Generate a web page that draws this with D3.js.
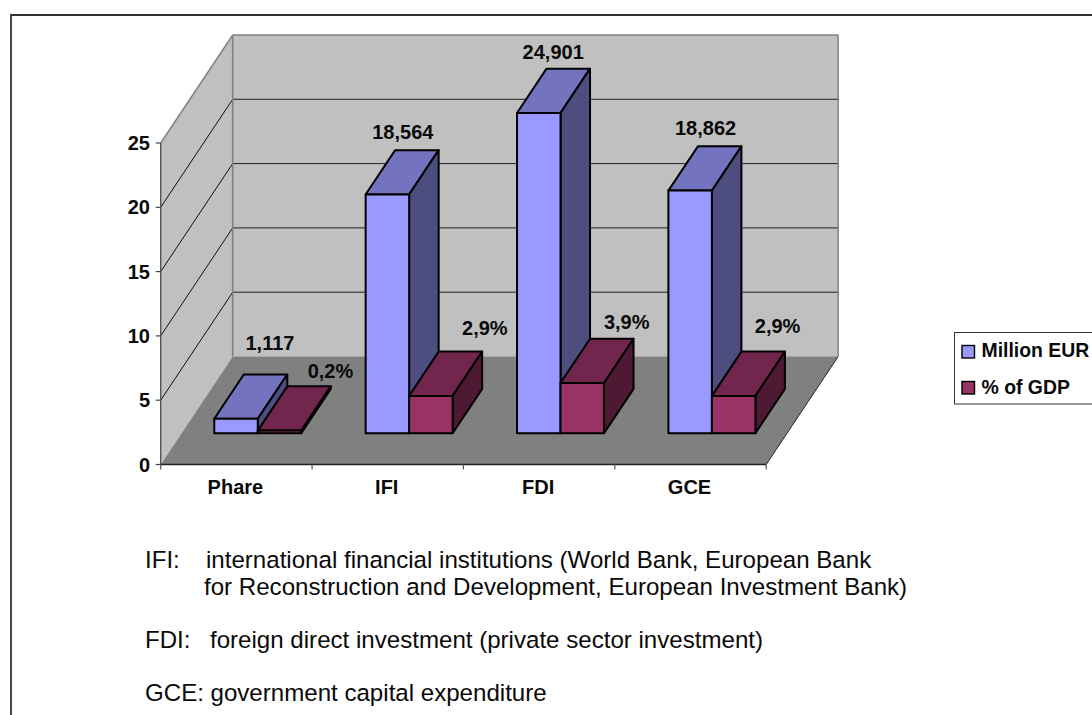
<!DOCTYPE html>
<html>
<head>
<meta charset="utf-8">
<script src="https://cdn.jsdelivr.net/npm/d3@7"></script>
<style>
html,body{margin:0;padding:0;background:#fff;overflow:hidden}
svg{display:block}
text{font-family:"Liberation Sans",Arial,sans-serif;fill:#0a0a0a}
.b{font-weight:bold;font-size:20px}
.l{font-weight:bold;font-size:19.4px}
.n{font-size:24.1px}
</style>
</head>
<body>
<svg id="c" width="1092" height="715"></svg>
<script>
// Chart values
const categories = ["Phare", "IFI", "FDI", "GCE"];
const millionEur = [1.117, 18.564, 24.901, 18.862];
const pctGdp = [0.2, 2.9, 3.9, 2.9];
const millionLabels = ["1,117", "18,564", "24,901", "18,862"];
const pctLabels = ["0,2%", "2,9%", "3,9%", "2,9%"];
const yTicks = [0, 5, 10, 15, 20, 25];
const seriesNames = ["Million EUR", "% of GDP"];
const notes = [
  ["IFI:", "international financial institutions (World Bank, European Bank"],
  ["", "for Reconstruction and Development, European Investment Bank)"],
  ["FDI:", "foreign direct investment (private sector investment)"],
  ["GCE:", "government capital expenditure"]
];

const svg = d3.select("#c");

// Oblique projection: x along the categories, z into the page, v up the value axis
const X0 = 160.7, Y0 = 464.5, W = 605.5, H = 321.5, DX = 72, DY = 108;
const xCat = d3.scaleBand().domain(categories).range([0, W]);
const yVal = d3.scaleLinear().domain([0, 25]).range([0, H]);
const P = (x, z, v) => [X0 + x + DX * z, Y0 - DY * z - v];
const poly = (pts, fill, stroke, sw) => svg.append("polygon")
  .attr("points", pts.map(p => p.join(",")).join(" "))
  .attr("fill", fill).attr("stroke", stroke || "none").attr("stroke-width", sw || 0)
  .attr("stroke-linejoin", "round");
const seg = (a, b, color, sw) => svg.append("line")
  .attr("x1", a[0]).attr("y1", a[1]).attr("x2", b[0]).attr("y2", b[1])
  .attr("stroke", color).attr("stroke-width", sw);

// Outer frame: left and top edges only
svg.append("path").attr("d", "M11,715V15H1092").attr("fill", "none").attr("stroke", "#333").attr("stroke-width", 1.8);

// Walls and floor
const wallH = yVal(25);
poly([P(0,0,0), P(0,1,0), P(0,1,wallH), P(0,0,wallH)], "#c0c0c0");
poly([P(0,1,0), P(W,1,0), P(W,1,wallH), P(0,1,wallH)], "#c0c0c0");
poly([P(0,0,0), P(W,0,0), P(W,1,0), P(0,1,0)], "#808080");

// Gridlines on both walls
yTicks.slice(1, -1).forEach(t => {
  seg(P(0,0,yVal(t)), P(0,1,yVal(t)), "#111", 1);
  seg(P(0,1,yVal(t)), P(W,1,yVal(t)), "#222", 1);
});

// Wall outlines
seg(P(0,0,wallH), P(0,1,wallH), "#808080", 1.4);
seg(P(0,1,wallH), P(W,1,wallH), "#808080", 1.6);
seg(P(W,1,wallH), P(W,1,0), "#808080", 1.4);
seg(P(0,1,0), P(0,1,wallH), "#808080", 1.6);
seg(P(0,1,0), P(W,1,0), "#a8a8a8", 1);
seg(P(W,0,0), P(W,1,0), "#222", 1);

// Value axis and category axis with ticks
seg(P(0,0,0), P(0,0,wallH), "#555", 1.4);
yTicks.forEach(t => {
  const p = P(0,0,yVal(t));
  seg([p[0]-5,p[1]], p, "#444", 1.2);
  svg.append("text").attr("class","b").attr("x",p[0]-10.7).attr("y",p[1]+7).attr("text-anchor","end").text(t);
});
seg(P(0,0,0), P(W,0,0), "#222", 1.4);
categories.concat([null]).forEach(c => {
  const x = c === null ? W : xCat(c);
  const p = P(x,0,0);
  seg(p, [p[0],p[1]+5], "#555", 1.2);
});
categories.forEach(c => {
  const p = P(xCat(c) + xCat.bandwidth()/2,0,0);
  svg.append("text").attr("class","b").attr("x",p[0]-1).attr("y",p[1]+29.5).attr("text-anchor","middle").text(c);
});

// Bars, each drawn with top, side and front faces
const barW = 43.5, z1 = 0.29, z2 = 0.70;
const gap = (xCat.bandwidth() - 2*barW) / 2 + 0.5;
const shades = [
  {front:"#9999ff", topFace:"#7373bf", side:"#4d4d80"},
  {front:"#993366", topFace:"#73264d", side:"#4d1933"}
];
function bar(x, h, s) {
  poly([P(x,z1,h), P(x+barW,z1,h), P(x+barW,z2,h), P(x,z2,h)], s.topFace, "#000", 2);
  poly([P(x+barW,z1,0), P(x+barW,z2,0), P(x+barW,z2,h), P(x+barW,z1,h)], s.side, "#000", 2);
  poly([P(x,z1,0), P(x+barW,z1,0), P(x+barW,z1,h), P(x,z1,h)], s.front, "#000", 2);
}
// Hand-placed data labels: shift from the back-top centre of each bar
const millionNudge = [[4.4,-24.7],[-14.1,-11.4],[-15.1,-10],[-14.1,-11.6]];
const pctNudge = [[21.4,-8.6],[24.4,-16.9],[14.9,-10],[14.4,-18.4]];
categories.forEach((c,i) => {
  const x = xCat(c) + gap;
  bar(x, yVal(millionEur[i]), shades[0]);
  bar(x+barW, yVal(pctGdp[i]), shades[1]);
  const a = P(x+barW/2, z2, yVal(millionEur[i]));
  svg.append("text").attr("class","b").attr("x",a[0]+millionNudge[i][0]).attr("y",a[1]+millionNudge[i][1]).attr("text-anchor","middle").text(millionLabels[i]);
  const b = P(x+barW*1.5, z2, yVal(pctGdp[i]));
  svg.append("text").attr("class","b").attr("x",b[0]+pctNudge[i][0]).attr("y",b[1]+pctNudge[i][1]).attr("text-anchor","middle").text(pctLabels[i]);
});

// Legend, running off the right edge
svg.append("rect").attr("x",954.5).attr("y",332.5).attr("width",150).attr("height",71.5).attr("fill","#fff").attr("stroke","#333").attr("stroke-width",1);
seriesNames.forEach((n,i) => {
  const y = i ? 381.5 : 345.5;
  svg.append("rect").attr("x",962).attr("y",y).attr("width",12.5).attr("height",12.5)
    .attr("fill",shades[i].front).attr("stroke","#000").attr("stroke-width",1.4);
  svg.append("text").attr("class","l").attr("x",981.5).attr("y",i ? 394 : 356.7).text(n);
});

// Footnotes
const noteY = [568, 595, 648, 700.5];
const noteRows = svg.append("g").selectAll("g").data(notes).join("g");
noteRows.each(function(d,i){
  const g = d3.select(this);
  if (d[0]) g.append("text").attr("class","n").attr("x",145).attr("y",noteY[i]).text(d[0]);
  g.append("text").attr("class","n").attr("x",[206,204,210,210.5][i]).attr("y",noteY[i]).text(d[1]);
});
</script>
</body>
</html>
